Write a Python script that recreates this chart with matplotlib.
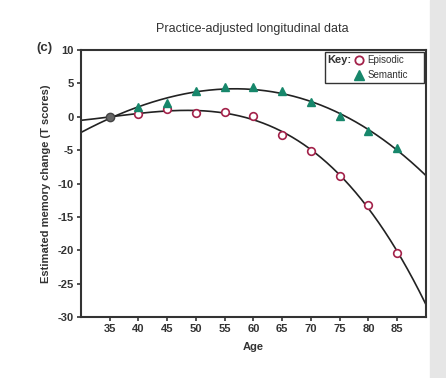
import numpy as np
import matplotlib
matplotlib.use("Agg")
import matplotlib.pyplot as plt
from matplotlib.patches import Rectangle

plt.rcParams['font.family'] = ['Liberation Sans', 'DejaVu Sans']
plt.rcParams['axes.unicode_minus'] = False

ages = [40, 45, 50, 55, 60, 65, 70, 75, 80, 85]
episodic = [0.4, 1.1, 0.5, 0.7, 0.15, -2.7, -5.1, -8.9, -13.2, -20.4]
semantic = [1.5, 2.1, 3.8, 4.4, 4.4, 3.8, 2.15, 0.1, -2.2, -4.7]
base_age = 35
base_val = 0.0
xticks = [35, 40, 45, 50, 55, 60, 65, 70, 75, 80, 85]
yticks = [-30, -25, -20, -15, -10, -5, 0, 5, 10]

ep_col = '#a3224a'
se_col = '#17876b'

fig = plt.figure(figsize=(4.46, 3.78), dpi=100)
fig.patches.append(Rectangle((0.964, 0), 0.036, 1, transform=fig.transFigure,
                             color='#e6e6e6', zorder=0))
ax = fig.add_axes([0.1816, 0.1614, 0.7735, 0.7063])

xa = np.array([base_age] + ages, dtype=float)
xs = np.linspace(30, 90, 300)
for vals in (episodic, semantic):
    ya = np.array([base_val] + vals)
    c = np.polyfit(xa, ya, 3)
    ax.plot(xs, np.polyval(c, xs), color='#222222', lw=1.2, zorder=2)

ax.plot(ages, episodic, 'o', mfc='white', mec=ep_col, mew=1.2, ms=5.5, zorder=3)
ax.plot(ages, semantic, '^', color=se_col, ms=6, zorder=3)
ax.plot([base_age], [base_val], 'o', color='#666666', mec='#444444', ms=6, zorder=4)

ax.set_xlim(30, 90)
ax.set_ylim(-30, 10)
ax.set_xticks(xticks)
ax.set_yticks(yticks)
for lab in ax.get_xticklabels() + ax.get_yticklabels():
    lab.set_fontweight('bold')
    lab.set_fontsize(8)
    lab.set_color('#333333')
ax.tick_params(direction='out', length=3, width=1.2, pad=2, colors='#333333')
for s in ax.spines.values():
    s.set_linewidth(1.5)
    s.set_color('#333333')

ax.set_xlabel('Age', fontsize=8, fontweight='bold', color='#333333', labelpad=6)
ax.set_ylabel('Estimated memory change (T scores)', fontsize=8, fontweight='bold',
              color='#333333', labelpad=5)
fig.text(0.565, 0.922, 'Practice-adjusted longitudinal data', ha='center', va='center',
         fontsize=9, color='#333333')
fig.text(0.1, 0.872, '(c)', ha='center', va='center', fontsize=9.5, fontweight='bold',
         color='#333333')

# Key box
ax.add_patch(Rectangle((0.708, 0.875), 0.285, 0.118, transform=ax.transAxes,
                       fill=False, lw=1.0, ec='#333333', zorder=5))
ax.text(0.715, 0.962, 'Key:', transform=ax.transAxes, fontsize=8, fontweight='bold',
        va='center', ha='left', color='#333333')
ax.plot([0.806], [0.962], 'o', transform=ax.transAxes, mfc='white', mec=ep_col, mew=1.3,
        ms=6, clip_on=False, zorder=6)
ax.text(0.83, 0.962, 'Episodic', transform=ax.transAxes, fontsize=7, va='center',
        ha='left', color='#333333')
ax.plot([0.806], [0.905], '^', transform=ax.transAxes, color=se_col, ms=6.5,
        clip_on=False, zorder=6)
ax.text(0.83, 0.905, 'Semantic', transform=ax.transAxes, fontsize=7, va='center',
        ha='left', color='#333333')

fig.savefig('out.png', dpi=100)
